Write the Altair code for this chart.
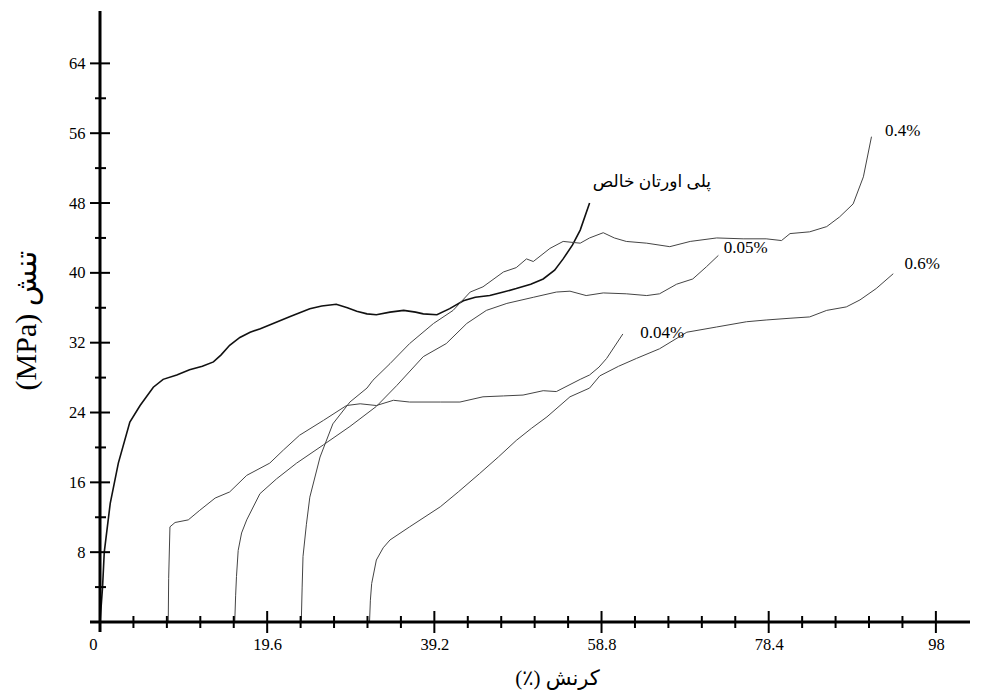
import altair as alt
import pandas as pd

# ---- data ----
pure_x = [0, 0.3, 0.5, 1.2, 2.15, 3.5, 4.7, 6.25, 7.4, 9.0, 10.5, 12.0, 13.3, 14.2, 15.2, 16.4, 17.6, 18.8, 20.3, 22.3, 24.6, 26.0, 27.7, 29.0, 30.1, 31.3, 32.4, 34.0, 35.6, 37.0, 37.9, 39.5, 41.0, 42.6, 44.0, 45.7, 47.3, 48.8, 50.5, 51.96, 53.3, 54.3, 55.4, 56.3, 57.4]
pure_y = [0, 4.0, 8.0, 13.6, 18.2, 22.9, 24.8, 26.9, 27.8, 28.3, 28.9, 29.3, 29.8, 30.6, 31.7, 32.6, 33.2, 33.6, 34.2, 35.0, 35.9, 36.2, 36.4, 36.0, 35.6, 35.3, 35.2, 35.5, 35.7, 35.5, 35.3, 35.2, 35.9, 36.8, 37.2, 37.4, 37.8, 38.2, 38.7, 39.3, 40.3, 41.6, 43.2, 44.9, 48.0]

c004_x = [8.0, 8.05, 8.2, 8.8, 10.35, 11.7, 13.5, 15.2, 17.2, 19.9, 21.5, 23.4, 26.2, 28.9, 30.5, 32.4, 34.4, 36.3, 39.9, 42.2, 44.9, 47.3, 49.6, 51.96, 53.5, 56.3, 57.4, 58.5, 59.4, 61.3]
c004_y = [0, 5.0, 10.9, 11.4, 11.7, 12.8, 14.2, 14.9, 16.8, 18.2, 19.7, 21.4, 23.1, 24.8, 25.0, 24.8, 25.4, 25.2, 25.2, 25.2, 25.8, 25.9, 26.0, 26.5, 26.4, 27.8, 28.3, 29.2, 30.2, 33.0]

c005_x = [15.8, 15.9, 16.0, 16.2, 16.6, 17.2, 18.75, 20.7, 23.05, 26.2, 29.3, 32.4, 34.8, 37.9, 40.6, 43.0, 45.3, 47.7, 50.8, 53.5, 55.1, 57.0, 59.0, 61.7, 64.1, 65.6, 67.6, 69.5, 71.1, 72.5]
c005_y = [0, 3.0, 5.2, 8.2, 10.2, 11.7, 14.7, 16.4, 18.2, 20.3, 22.4, 24.7, 27.1, 30.4, 31.9, 34.2, 35.7, 36.5, 37.2, 37.8, 37.9, 37.4, 37.7, 37.6, 37.4, 37.6, 38.7, 39.3, 40.7, 42.0]

c04_x = [23.6, 23.7, 23.8, 24.2, 24.6, 25.8, 27.3, 29.3, 31.3, 32.0, 34.0, 36.3, 39.1, 41.4, 43.4, 44.9, 47.3, 48.8, 50.0, 50.8, 52.75, 54.3, 56.3, 57.4, 59.0, 60.3, 61.7, 64.1, 66.8, 69.2, 72.3, 75.4, 78.1, 79.9, 80.9, 83.2, 85.2, 86.7, 88.3, 89.5, 90.45]
c04_y = [0, 4.0, 7.5, 11.2, 14.3, 18.9, 22.7, 25.2, 26.8, 27.7, 29.6, 31.9, 34.2, 35.7, 37.8, 38.4, 40.1, 40.6, 41.6, 41.3, 42.8, 43.6, 43.4, 44.0, 44.6, 44.0, 43.6, 43.4, 43.0, 43.6, 44.0, 43.9, 43.9, 43.7, 44.5, 44.7, 45.3, 46.4, 47.9, 51.0, 55.6]

c06_x = [31.6, 31.7, 31.85, 32.4, 33.2, 34.0, 36.3, 39.9, 42.0, 44.5, 46.7, 48.8, 50.6, 52.4, 55.1, 57.4, 58.6, 60.8, 62.9, 65.6, 68.8, 72.3, 75.8, 78.1, 80.9, 83.2, 85.2, 87.5, 89.1, 91.0, 93.0]
c06_y = [0, 2.5, 4.4, 7.1, 8.5, 9.4, 10.9, 13.2, 14.9, 17.0, 18.9, 20.8, 22.2, 23.5, 25.8, 26.8, 28.2, 29.3, 30.2, 31.3, 33.2, 33.8, 34.4, 34.6, 34.8, 34.95, 35.7, 36.1, 36.9, 38.2, 39.9]

label_text = ["پلی اورتان خالص", "0.4%", "0.05%", "0.6%", "0.04%"]
label_x = [64.7, 94.1, 75.7, 96.4, 65.9]
label_y = [50.4, 56.2, 42.9, 41.0, 33.1]

x_labels = [0, 19.6, 39.2, 58.8, 78.4, 98]
x_major = [19.6, 39.2, 58.8, 78.4, 98]
x_minor = [3.92, 7.84, 11.76, 15.68, 23.52, 27.44, 31.36, 35.28, 43.12, 47.04, 50.96, 54.88,
           62.72, 66.64, 70.56, 74.48, 82.32, 86.24, 90.16, 94.08]
y_major = [8, 16, 24, 32, 40, 48, 56, 64]
y_minor = [4, 12, 20, 28, 36, 44, 52, 60]

x_title = "(٪) کرنش"
y_title = "(MPa) تنش"

# ---- tables ----
def series_rows(name, xs, ys):
    return [{"series": name, "order": i, "strain": x, "stress": y}
            for i, (x, y) in enumerate(zip(xs, ys))]

pure_df = pd.DataFrame(series_rows("pure", pure_x, pure_y))
other_df = pd.DataFrame(
    series_rows("0.04%", c004_x, c004_y)
    + series_rows("0.05%", c005_x, c005_y)
    + series_rows("0.4%", c04_x, c04_y)
    + series_rows("0.6%", c06_x, c06_y)
)
lab_df = pd.DataFrame({"text": label_text, "x": label_x, "y": label_y})
xmaj_df = pd.DataFrame({"t": x_major})
xmin_df = pd.DataFrame({"t": x_minor})
ymaj_df = pd.DataFrame({"t": y_major})
ymin_df = pd.DataFrame({"t": y_minor})

SERIF = "'Liberation Serif', 'DejaVu Serif', 'DejaVu Sans'"
xscale = alt.Scale(domain=[0, 102], nice=False, zero=False)
yscale = alt.Scale(domain=[0, 70], nice=False, zero=False)

x_axis = alt.Axis(values=x_labels, labelExpr="toString(datum.value)",
                  domain=False, ticks=False, tickSize=0, grid=False,
                  labelFont=SERIF, labelFontSize=16.5, labelColor="black", labelPadding=14,
                  labelAlign={"condition": {"test": "datum.value == 0", "value": "right"}, "value": "center"},
                  labelOffset={"condition": {"test": "datum.value == 0", "value": -3}, "value": 0},
                  labelFlush=False, labelOverlap=False,
                  title=x_title, titleFont=SERIF, titleFontSize=21, titleFontWeight="normal",
                  titleColor="black", titleX=457, titleY=56, titleAlign="center", titleBaseline="middle")
y_axis = alt.Axis(values=y_major, labelExpr="toString(datum.value)",
                  domain=False, ticks=False, tickSize=0, grid=False,
                  labelFont=SERIF, labelFontSize=16.5, labelColor="black", labelPadding=15,
                  labelFlush=False, labelOverlap=False,
                  title=y_title, titleFont=SERIF, titleFontSize=30, titleFontWeight="normal",
                  titleColor="black", titleAngle=270, titleX=-74, titleY=309,
                  titleAlign="center", titleBaseline="middle")

pure_line = alt.Chart(pure_df).mark_line(color="#111111", strokeWidth=1.6, clip=False).encode(
    x=alt.X("strain:Q", scale=xscale, axis=x_axis),
    y=alt.Y("stress:Q", scale=yscale, axis=y_axis),
    order="order:Q",
)
other_lines = alt.Chart(other_df).mark_line(color="#444444", strokeWidth=1.0, clip=False).encode(
    x=alt.X("strain:Q", scale=xscale, axis=x_axis),
    y=alt.Y("stress:Q", scale=yscale, axis=y_axis),
    detail="series:N",
    order="order:Q",
)

labels = alt.Chart(lab_df).mark_text(font=SERIF, fontSize=17, color="black", align="center",
                                     baseline="middle").encode(
    x=alt.X("x:Q", scale=xscale, axis=x_axis),
    y=alt.Y("y:Q", scale=yscale, axis=y_axis),
    text="text:N",
)

# axis lines crossing at the origin
x_axis_line = alt.Chart(pd.DataFrame({"a": [0]})).mark_rule(
    color="black", strokeWidth=3, xOffset=-10).encode(
    x=alt.XDatum(0, scale=xscale, axis=x_axis), x2=alt.X2Datum(102),
    y=alt.YDatum(0, scale=yscale, axis=y_axis))
y_axis_line = alt.Chart(pd.DataFrame({"a": [0]})).mark_rule(
    color="black", strokeWidth=3, yOffset=10).encode(
    x=alt.XDatum(0, scale=xscale, axis=x_axis),
    y=alt.YDatum(0, scale=yscale, axis=y_axis), y2=alt.Y2Datum(70))

def xticks(df, half):
    return alt.Chart(df).mark_rule(color="black", strokeWidth=2, yOffset=-half, y2Offset=half).encode(
        x=alt.X("t:Q", scale=xscale, axis=x_axis),
        y=alt.YDatum(0, scale=yscale, axis=y_axis), y2=alt.Y2Datum(0))

def yticks(df, left, right):
    return alt.Chart(df).mark_rule(color="black", strokeWidth=2, xOffset=-left, x2Offset=right).encode(
        y=alt.Y("t:Q", scale=yscale, axis=y_axis),
        x=alt.XDatum(0, scale=xscale, axis=x_axis), x2=alt.X2Datum(0))

chart = alt.layer(
    pure_line, other_lines, labels,
    x_axis_line, y_axis_line,
    xticks(xmaj_df, 11), xticks(xmin_df, 6),
    yticks(ymaj_df, 10, 10), yticks(ymin_df, 5, 6),
).properties(
    width=870, height=611,
    autosize=alt.AutoSizeParams(type="none"),
    padding={"left": 92, "top": 3, "right": 4, "bottom": 68},
    background="white",
).configure_view(stroke=None)

chart.save("out.html", embed_options={"renderer": "svg", "actions": False})
